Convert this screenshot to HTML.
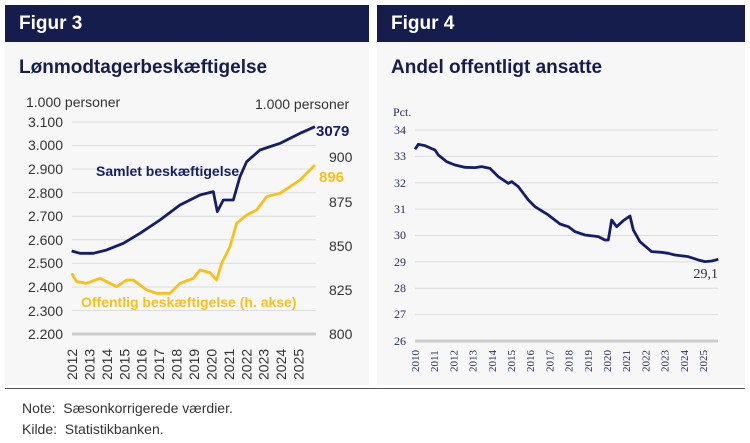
<!DOCTYPE html>
<html><head><meta charset="utf-8"><style>
body{margin:0;width:750px;height:443px;background:#fff;font-family:"Liberation Sans",sans-serif;position:relative;overflow:hidden}
.p{position:absolute;top:5px;height:380px;background:#f7f7f7}
.h{position:absolute;left:0;right:0;top:0;height:37px;background:#151d4d;color:#fff;font-weight:bold;font-size:19px;line-height:37px;padding-left:14px}
.t{position:absolute;left:14px;top:52px;font-weight:bold;font-size:19px;color:#151d4d}
.n{position:absolute;left:22px;font-size:14px;color:#333}
svg{position:absolute;left:0;top:0}
</style></head><body>
<div class="p" style="left:5px;width:364px"><div class="h">Figur 3</div><div class="t">Lønmodtagerbeskæftigelse</div></div>
<div class="p" style="left:377px;width:368px"><div class="h">Figur 4</div><div class="t">Andel offentligt ansatte</div></div>
<div style="position:absolute;left:5px;top:388px;width:740px;height:1px;background:#555"></div>
<div class="n" style="top:400px">Note:&nbsp; Sæsonkorrigerede værdier.</div>
<div class="n" style="top:421px">Kilde:&nbsp; Statistikbanken.</div>
<svg width="750" height="443">
<g stroke="#dcdcdc" stroke-width="1">
<line x1="72" x2="316" y1="122" y2="122"/><line x1="72" x2="316" y1="145.5" y2="145.5"/><line x1="72" x2="316" y1="169" y2="169"/><line x1="72" x2="316" y1="192.7" y2="192.7"/><line x1="72" x2="316" y1="216.2" y2="216.2"/><line x1="72" x2="316" y1="239.8" y2="239.8"/><line x1="72" x2="316" y1="263.3" y2="263.3"/><line x1="72" x2="316" y1="287" y2="287"/><line x1="72" x2="316" y1="310.5" y2="310.5"/>
<line x1="415" x2="718" y1="130" y2="130"/><line x1="415" x2="718" y1="156.4" y2="156.4"/><line x1="415" x2="718" y1="182.8" y2="182.8"/><line x1="415" x2="718" y1="209.1" y2="209.1"/><line x1="415" x2="718" y1="235.5" y2="235.5"/><line x1="415" x2="718" y1="261.9" y2="261.9"/><line x1="415" x2="718" y1="288.3" y2="288.3"/><line x1="415" x2="718" y1="314.6" y2="314.6"/>
</g>
<line x1="72" x2="316" y1="334" y2="334" stroke="#ccc" stroke-width="3"/>
<line x1="415" x2="718" y1="341" y2="341" stroke="#ccc" stroke-width="3"/>
<g font-size="14" fill="#333" text-anchor="end">
<text x="63" y="127">3.100</text><text x="63" y="150">3.000</text><text x="63" y="174">2.900</text><text x="63" y="198">2.800</text><text x="63" y="221">2.700</text><text x="63" y="245">2.600</text><text x="63" y="268">2.500</text><text x="63" y="292">2.400</text><text x="63" y="316">2.300</text><text x="63" y="339">2.200</text>
</g>
<g font-size="14" fill="#333">
<text x="26" y="107">1.000 personer</text><text x="255" y="109">1.000 personer</text>
<text x="329" y="162">900</text><text x="329" y="207">875</text><text x="329" y="251">850</text><text x="329" y="295">825</text><text x="329" y="339">800</text>
</g>
<g font-size="14" fill="#333" id="yl"></g>
<g font-family="Liberation Serif,serif" font-size="12" fill="#2a2e5a" text-anchor="end">
<text x="393" y="116" text-anchor="start">Pct.</text>
<text x="406" y="134">34</text><text x="406" y="160">33</text><text x="406" y="187">32</text><text x="406" y="213">31</text><text x="406" y="239">30</text><text x="406" y="266">29</text><text x="406" y="292">28</text><text x="406" y="318">27</text><text x="406" y="345">26</text>
<text x="718" y="278" font-size="14">29,1</text>
</g>
<g id="yr" font-family="Liberation Serif,serif" font-size="11" fill="#2a2e5a"></g>
<g transform="translate(0,90) scale(0.3333)" fill="none" stroke-linejoin="round">
<polyline vector-effect="non-scaling-stroke" stroke="#151d6a" stroke-width="2.8" points="215,483 240,490 280,490 320,480 370,460 420,430 480,390 540,345 600,315 640,305 652,365 670,330 690,330 700,330 720,260 740,215 780,180 840,160 900,130 945,110"/>
<polyline vector-effect="non-scaling-stroke" stroke="#fbbf1a" stroke-width="2.8" points="215,550 230,575 260,580 300,565 350,590 380,570 400,570 440,600 470,610 510,610 540,580 580,565 600,540 630,548 650,570 665,520 690,470 710,400 740,375 770,360 800,320 840,310 870,290 900,270 945,225"/>
</g>
<g transform="translate(375,90) scale(0.3333)" fill="none">
<polyline vector-effect="non-scaling-stroke" stroke="#151d6a" stroke-width="2.8" stroke-linejoin="round" points="120,178 130,163 150,167 180,180 190,195 215,215 240,225 270,232 300,233 320,230 345,235 370,260 400,280 410,275 430,290 460,330 480,350 520,375 555,402 580,410 600,425 630,435 670,440 690,450 700,450 710,390 725,410 745,392 765,378 775,420 795,455 830,485 860,487 880,490 900,495 940,500 970,510 990,515 1010,513 1030,508"/>
</g>
<g font-weight="bold" font-size="14">
<text x="96" y="176" fill="#151d6a">Samlet beskæftigelse</text>
<text x="81" y="307" fill="#fbbf1a">Offentlig beskæftigelse (h. akse)</text>
<text x="316" y="136" fill="#151d6a" font-size="15">3079</text>
<text x="319" y="182" fill="#fbbf1a" font-size="15">896</text>
</g>
</svg>
<script>
var s='';for(var i=0;i<14;i++){var x=72+i*17.43+5;s+='<text transform="translate('+x+',380) rotate(-90)">'+(2012+i)+'</text>';}
document.getElementById('yl').innerHTML=s;
s='';for(var i=0;i<16;i++){var x=415+i*19.2+4;s+='<text transform="translate('+x+',372) rotate(-90)">'+(2010+i)+'</text>';}
document.getElementById('yr').innerHTML=s;
</script>
</body></html>
